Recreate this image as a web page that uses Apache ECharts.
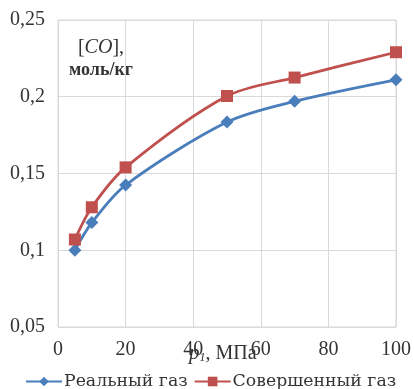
<!DOCTYPE html>
<html><head><meta charset="utf-8">
<script src="https://cdn.jsdelivr.net/npm/echarts@6/dist/echarts.min.js"></script>
<style>html,body{margin:0;padding:0;background:#fff}#c{width:414px;height:389px}</style>
</head><body><div id="c"></div>
<script>
const pressures = [5, 10, 20, 50, 70, 100];
const realGas = [0.100, 0.118, 0.1425, 0.1835, 0.197, 0.211];
const perfectGas = [0.107, 0.128, 0.154, 0.2005, 0.2125, 0.229];
const yTicks = [0.05, 0.1, 0.15, 0.2, 0.25];
const xTicks = [0, 20, 40, 60, 80, 100];
const seriesNames = ['Реальный газ', 'Совершенный газ'];

const chart = echarts.init(document.getElementById('c'));
const serif = '"Liberation Serif", "DejaVu Serif", serif';
const dserif = '"DejaVu Serif", serif';
chart.setOption({
  animation: false,
  grid: {left: 58, right: 16, top: 20, bottom: 62, show: true, borderColor: '#d9d9d9', borderWidth: 1},
  xAxis: {
    type: 'value', min: xTicks[0], max: xTicks[xTicks.length-1], interval: 20,
    axisLine: {show: false}, axisTick: {show: false},
    splitLine: {show: true, lineStyle: {color: '#d9d9d9'}},
    axisLabel: {color: '#333', fontFamily: serif, fontSize: 20, margin: 13}
  },
  yAxis: {
    type: 'value', min: yTicks[0], max: yTicks[yTicks.length-1], interval: 0.05,
    axisLine: {show: false}, axisTick: {show: false},
    splitLine: {show: true, lineStyle: {color: '#d9d9d9'}},
    axisLabel: {color: '#333', fontFamily: serif, fontSize: 20, margin: 13,
      formatter: v => { const t = yTicks.find(x => Math.abs(x - v) < 1e-9); return String(t !== undefined ? t : v).replace('.', ','); }}
  },
  legend: {
    top: 368, left: 20, itemWidth: 36, itemHeight: 12, itemGap: 6,
    textStyle: {fontFamily: dserif, fontSize: 17.3, color: '#333', padding: [0, 0, 0, -3]},
    data: seriesNames
  },
  graphic: [
    {type: 'text', x: 101, y: 36, style: {
      text: '{n|[}{i|CO}{n|],}\n{b|моль/кг}', align: 'center', verticalAlign: 'top',
      rich: {n: {fontFamily: serif, fontSize: 20, fill: '#333', lineHeight: 23},
             i: {fontFamily: serif, fontSize: 20, fontStyle: 'italic', fill: '#333', lineHeight: 23},
             b: {fontFamily: serif, fontSize: 18, fontWeight: 'bold', fill: '#333', lineHeight: 23}},
      fill: '#333'}},
    {type: 'text', left: 189, top: 343, style: {
      text: '{i|p}{s|1}{n|, МПа}',
      rich: {i: {fontFamily: serif, fontSize: 21, fontStyle: 'italic', fill: '#333'},
             s: {fontFamily: serif, fontSize: 12, fontStyle: 'italic', fill: '#333', padding: [9, 0, 0, 0]},
             n: {fontFamily: serif, fontSize: 20, fill: '#333'}}}}
  ],
  series: [
    {name: seriesNames[0], type: 'line', smooth: 0.3, data: pressures.map((p, i) => [p, realGas[i]]),
     symbol: 'diamond', symbolSize: 13, lineStyle: {width: 2.8, color: '#4a7ebb'}, itemStyle: {color: '#4a7ebb'}},
    {name: seriesNames[1], type: 'line', smooth: 0.3, data: pressures.map((p, i) => [p, perfectGas[i]]),
     symbol: 'rect', symbolSize: 12, lineStyle: {width: 2.8, color: '#c0504d'}, itemStyle: {color: '#c0504d'}}
  ]
});
</script></body></html>
